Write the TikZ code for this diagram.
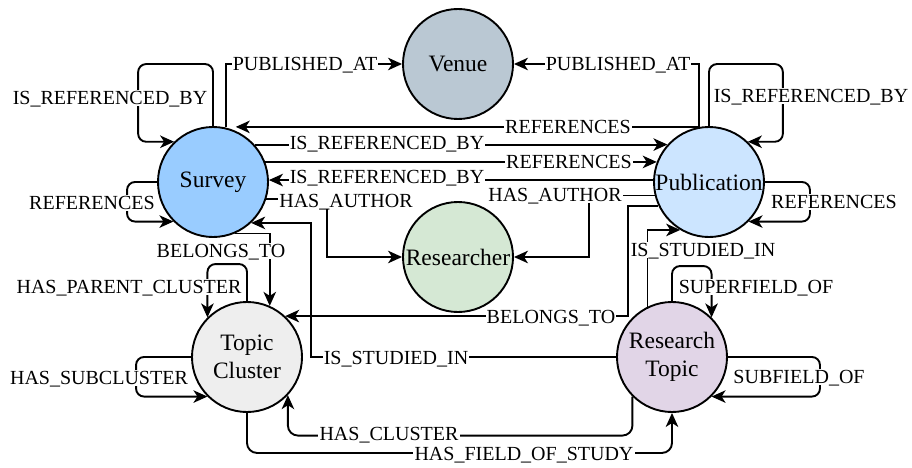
\documentclass[tikz,border=0pt]{standalone}
\usepackage{fontspec}
\setmainfont{Liberation Serif}
\usetikzlibrary{arrows.meta,calc}
\definecolor{cvenue}{HTML}{BAC8D3}
\definecolor{csurvey}{HTML}{99CCFF}
\definecolor{cpub}{HTML}{CCE5FF}
\definecolor{cres}{HTML}{D5E8D4}
\definecolor{ctc}{HTML}{EEEEEE}
\definecolor{crt}{HTML}{E1D5E7}
\begin{document}
\begin{tikzpicture}[x=1pt,y=-1pt,
  ent/.style={circle, draw=black, line width=1.9pt, minimum size=110pt, inner sep=0pt,
    font=\fontsize{23.5}{28}\selectfont, align=center},
  edge/.style={line width=1.9pt, -{Stealth[length=14pt,width=12.5pt,inset=4pt]}},
  loopedge/.style={edge, rounded corners=8pt},
  lab/.style={fill=white, inner sep=1.2pt, text height=13pt, text depth=0pt,
    font=\fontsize{20}{24}\selectfont}]
\useasboundingbox (0,0) rectangle (912,468);

% entities
\node[ent, fill=cvenue] (venue) at (458,64) {Venue};
\node[ent, fill=csurvey] (survey) at (213,182) {Survey};
\node[ent, fill=cpub] (pub) at (709,182) {Publication};
\node[ent, fill=cres] (researcher) at (458,257) {Researcher};
\node[ent, fill=ctc] (tc) at (247,357) {Topic\\Cluster};
\node[ent, fill=crt] (rt) at (672,357) {Research\\Topic};

% connectors
\draw[edge] (survey.77) |- (venue.west);
\draw[edge] (pub.100) |- (venue.east);
\draw[edge] (pub.100) -- (pub.100 -| survey.66);
\draw[edge] (survey.42) -- (pub.138);
\draw[edge] (survey.21) -- (pub.159);
\draw[edge] (pub.178) -- (survey.2);
\draw[edge] (survey.-18) -| ($(researcher.west)+(-75,0)$) -- (researcher.west);
\draw[edge] (pub.194) -| ($(researcher.east)+(75,0)$) -- (researcher.east);
\draw[edge] (survey.-67) -| (tc.66);
\draw[edge] (pub.205) -| ($(tc.47)+(343,0)$) -- (tc.47);
\draw[edge] (rt.west) -| ($(survey.-47)+(60,0)$) -- (survey.-47);
\draw[edge] (rt.116) |- (pub.239);
\draw[edge, rounded corners=10pt] (rt.225) -- ++(0,39) -| (tc.-43);
\draw[edge, rounded corners=10pt] (tc.south) -- ++(0,40) -| (rt.south);

% self loops
\draw[loopedge] (survey.north) -- ++(0,-62) -| ($(survey.134)+(-36,0)$) -- (survey.134);
\draw[loopedge] (survey.west) -- ++(-30,0) |- (survey.-135);
\draw[loopedge] (pub.north) -- ++(0,-62) -| ($(pub.46)+(35,0)$) -- (pub.46);
\draw[loopedge] (pub.east) -- ++(45,0) |- (pub.-45);
\draw[loopedge] (tc.north) -- ++(0,-37) -| (tc.135);
\draw[loopedge] (tc.west) -- ++(-55,0) |- (tc.-135);
\draw[loopedge] (rt.north) -- ++(0,-35) -| (rt.45);
\draw[loopedge] (rt.east) -- ++(92,0) |- (rt.-45);

% labels
\node[lab] (l1) at (305,64) {PUBLISHED\_AT};
\node[lab] (l2) at (618,64) {PUBLISHED\_AT};
\node[lab] (l3) at (110,98) {IS\_REFERENCED\_BY};
\node[lab] (l4) at (811,96) {IS\_REFERENCED\_BY};
\node[lab] (l5) at (568,127) {REFERENCES};
\node[lab] (l6) at (387,143) {IS\_REFERENCED\_BY};
\node[lab] (l7) at (569,162) {REFERENCES};
\node[lab] (l8) at (387,177) {IS\_REFERENCED\_BY};
\node[lab] (l9) at (346,201) {HAS\_AUTHOR};
\node[lab] (l10) at (555,195) {HAS\_AUTHOR};
\node[lab] (l11) at (92,203) {REFERENCES};
\node[lab] (l12) at (834,202) {REFERENCES};
\node[lab] (l13) at (221,251) {BELONGS\_TO};
\node[lab] (l14) at (129,287) {HAS\_PARENT\_CLUSTER};
\node[lab] (l15) at (99,378) {HAS\_SUBCLUSTER};
\node[lab] (l16) at (551,317) {BELONGS\_TO};
\node[lab] (l17) at (396,358) {IS\_STUDIED\_IN};
\node[lab] (l18) at (703,250) {IS\_STUDIED\_IN};
\node[lab] (l19) at (756,287) {SUPERFIELD\_OF};
\node[lab] (l20) at (799,377) {SUBFIELD\_OF};
\node[lab] (l21) at (389,434) {HAS\_CLUSTER};
\node[lab] (l22) at (524,454) {HAS\_FIELD\_OF\_STUDY};
\end{tikzpicture}
\end{document}
